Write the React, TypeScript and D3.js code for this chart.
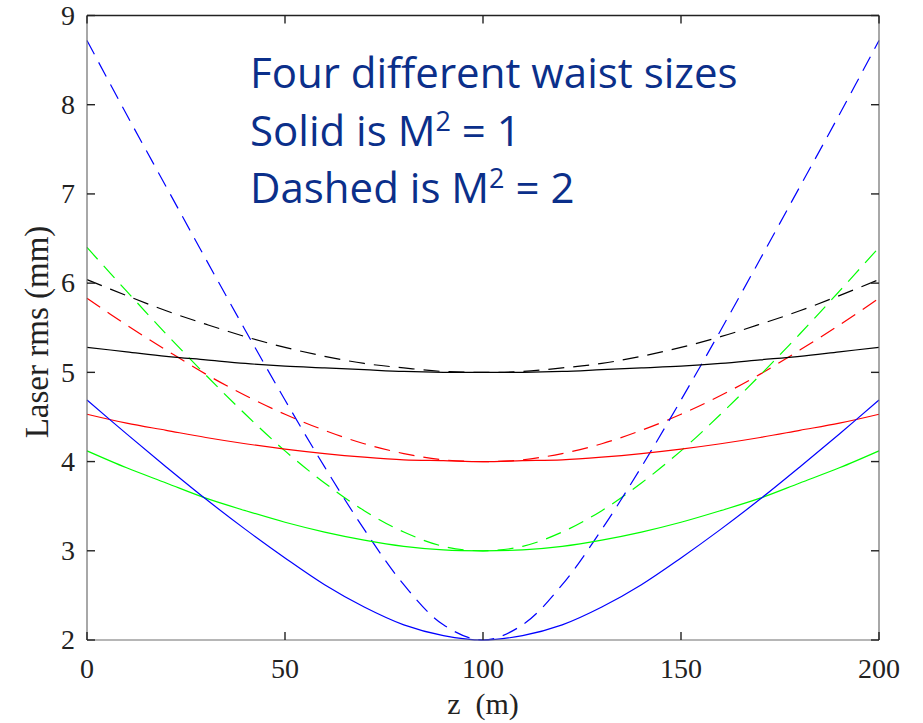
import React, { useEffect, useRef } from 'react';
import * as d3 from 'd3';

// z positions along the beam (m)
const zValues = [0, 10, 20, 30, 40, 50, 60, 70, 80, 90, 100, 110, 120, 130, 140, 150, 160, 170, 180, 190, 200];

// Laser rms (mm), M^2 = 1 (solid)
const blackSolid = [5.28, 5.23, 5.18, 5.14, 5.10, 5.07, 5.05, 5.03, 5.01, 5.00, 5.00, 5.00, 5.01, 5.03, 5.05, 5.07, 5.10, 5.14, 5.18, 5.23, 5.28];
const redSolid = [4.53, 4.43, 4.35, 4.27, 4.20, 4.14, 4.09, 4.05, 4.02, 4.01, 4.00, 4.01, 4.02, 4.05, 4.09, 4.14, 4.20, 4.27, 4.35, 4.43, 4.53];
const greenSolid = [4.12, 3.93, 3.76, 3.59, 3.45, 3.32, 3.21, 3.12, 3.05, 3.01, 3.00, 3.01, 3.05, 3.12, 3.21, 3.32, 3.45, 3.59, 3.76, 3.93, 4.12];
const blueSolid = [4.69, 4.31, 3.94, 3.58, 3.24, 2.92, 2.62, 2.37, 2.17, 2.05, 2.00, 2.05, 2.17, 2.37, 2.62, 2.92, 3.24, 3.58, 3.94, 4.31, 4.69];

// M^2 = 2 (dashed)
const blackDashed = [6.04, 5.86, 5.69, 5.54, 5.40, 5.28, 5.18, 5.10, 5.05, 5.01, 5.00, 5.01, 5.05, 5.10, 5.18, 5.28, 5.40, 5.54, 5.69, 5.86, 6.04];
const redDashed = [5.83, 5.53, 5.25, 4.98, 4.74, 4.53, 4.35, 4.20, 4.09, 4.02, 4.00, 4.02, 4.09, 4.20, 4.35, 4.53, 4.74, 4.98, 5.25, 5.53, 5.83];
const greenDashed = [6.40, 5.91, 5.43, 4.97, 4.53, 4.12, 3.76, 3.45, 3.21, 3.05, 3.00, 3.05, 3.21, 3.45, 3.76, 4.12, 4.53, 4.97, 5.43, 5.91, 6.40];
const blueDashed = [8.72, 7.89, 7.08, 6.27, 5.47, 4.69, 3.94, 3.24, 2.62, 2.17, 2.00, 2.17, 2.62, 3.24, 3.94, 4.69, 5.47, 6.27, 7.08, 7.89, 8.72];

const xTicks = [0, 50, 100, 150, 200];
const yTicks = [2, 3, 4, 5, 6, 7, 8, 9];

const noteLines = ['Four different waist sizes', 'Solid is M', 'Dashed is M'];

const App = () => {
  const ref = useRef<SVGSVGElement>(null);

  useEffect(() => {
    const width = 923;
    const height = 723;
    const margin = { top: 15.5, right: 44, bottom: 83, left: 87 };

    const svg = d3.select(ref.current);
    svg.selectAll('*').remove();

    const x = d3.scaleLinear().domain([0, 200]).range([margin.left, width - margin.right]);
    const y = d3.scaleLinear().domain([2, 9]).range([height - margin.bottom, margin.top]);

    const series = [
      { values: blackDashed, color: '#000000', dashed: true },
      { values: redDashed, color: '#ff0000', dashed: true },
      { values: greenDashed, color: '#00ff00', dashed: true },
      { values: blueDashed, color: '#0000ff', dashed: true },
      { values: blackSolid, color: '#000000', dashed: false },
      { values: redSolid, color: '#ff0000', dashed: false },
      { values: greenSolid, color: '#00ff00', dashed: false },
      { values: blueSolid, color: '#0000ff', dashed: false },
    ];

    const line = d3
      .line<number>()
      .x((_, i) => x(zValues[i]))
      .y((d) => y(d))
      .curve(d3.curveCatmullRom.alpha(0.5));

    const plot = svg.append('g');
    plot
      .selectAll('path')
      .data(series)
      .enter()
      .append('path')
      .attr('d', (d) => line(d.values))
      .attr('fill', 'none')
      .attr('stroke', (d) => d.color)
      .attr('stroke-width', 1.2)
      .attr('stroke-dasharray', (d) => (d.dashed ? '16,9' : null));

    // box
    const [x0, x1] = x.range();
    const [y0, y1] = y.range();
    svg.append('line').attr('x1', x0).attr('x2', x0).attr('y1', y0).attr('y2', y1).attr('stroke', '#6e6e6e').attr('stroke-width', 1.2);
    svg.append('line').attr('x1', x1).attr('x2', x1).attr('y1', y0).attr('y2', y1).attr('stroke', '#6e6e6e').attr('stroke-width', 1.2);
    svg.append('line').attr('x1', x0).attr('x2', x1).attr('y1', y0).attr('y2', y0).attr('stroke', '#6e6e6e').attr('stroke-width', 1.2);
    svg.append('line').attr('x1', x0).attr('x2', x1).attr('y1', y1).attr('y2', y1).attr('stroke', '#222').attr('stroke-width', 1.6);

    // ticks pointing inward
    const tickLen = 8;
    const ticks = svg.append('g').attr('stroke', '#222').attr('stroke-width', 1.4);
    yTicks.forEach((t) => {
      ticks.append('line').attr('x1', x0).attr('x2', x0 + tickLen).attr('y1', y(t)).attr('y2', y(t));
      ticks.append('line').attr('x1', x1).attr('x2', x1 - tickLen).attr('y1', y(t)).attr('y2', y(t));
    });
    xTicks.forEach((t) => {
      ticks.append('line').attr('x1', x(t)).attr('x2', x(t)).attr('y1', y0).attr('y2', y0 - tickLen);
      ticks.append('line').attr('x1', x(t)).attr('x2', x(t)).attr('y1', y1).attr('y2', y1 + tickLen);
    });

    const serif = '"Liberation Serif", "Times New Roman", serif';
    svg
      .append('g')
      .selectAll('text')
      .data(yTicks)
      .enter()
      .append('text')
      .attr('x', x0 - 12)
      .attr('y', (d) => y(d))
      .attr('dy', '0.33em')
      .attr('text-anchor', 'end')
      .attr('font-family', serif)
      .attr('font-size', 28)
      .attr('fill', '#222')
      .text((d) => d);

    svg
      .append('g')
      .selectAll('text')
      .data(xTicks)
      .enter()
      .append('text')
      .attr('x', (d) => x(d))
      .attr('y', 678)
      .attr('text-anchor', 'middle')
      .attr('font-family', serif)
      .attr('font-size', 28)
      .attr('fill', '#222')
      .text((d) => d);

    svg
      .append('text')
      .attr('x', (x0 + x1) / 2)
      .attr('y', 714)
      .attr('text-anchor', 'middle')
      .attr('font-family', serif)
      .attr('font-size', 30)
      .attr('fill', '#222')
      .attr('xml:space', 'preserve')
      .text('z  (m)');

    svg
      .append('text')
      .attr('transform', `translate(48, 332) rotate(-90)`)
      .attr('text-anchor', 'middle')
      .attr('font-family', serif)
      .attr('font-size', 33)
      .attr('fill', '#222')
      .text('Laser rms (mm)');

    // annotation
    const note = svg
      .append('g')
      .attr('font-family', '"Open Sans", "Noto Sans", sans-serif')
      .attr('font-size', 42)
      .attr('fill', '#0b2f8a');
    note.append('text').attr('x', 250).attr('y', 88).text(noteLines[0]);
    const suffixes = ['', ' = 1', ' = 2'];
    [1, 2].forEach((i) => {
      const t = note.append('text').attr('x', 250).attr('y', 88 + i * 57.5);
      t.append('tspan').text(noteLines[i]);
      t.append('tspan').attr('dy', -15).attr('font-size', 27).text('2');
      t.append('tspan').attr('dy', 15).text(suffixes[i]);
    });
  }, []);

  return (
    <svg
      ref={ref}
      width={923}
      height={723}
      style={{ position: 'absolute', left: 0, top: 0, background: '#fff' }}
    />
  );
};

export default App;
